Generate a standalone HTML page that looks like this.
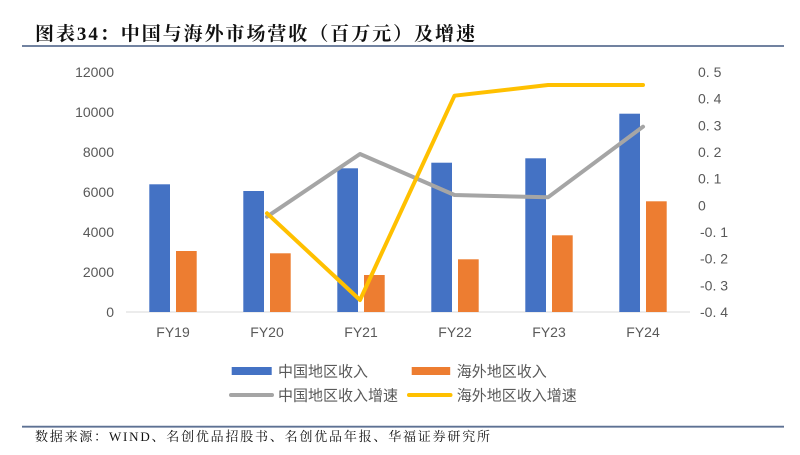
<!DOCTYPE html>
<html><head><meta charset="utf-8"><style>
html,body{margin:0;padding:0;background:#fff;}
svg{display:block;}
</style></head><body>
<svg width="800" height="455" viewBox="0 0 800 455" xmlns="http://www.w3.org/2000/svg">
<rect width="800" height="455" fill="#fff"/>
<text x="35" y="40" font-family="'Liberation Serif','Noto Serif CJK SC',serif" font-weight="bold" font-size="19" fill="#111" textLength="440" lengthAdjust="spacing">图表34：中国与海外市场营收（百万元）及增速</text>
<line x1="22" y1="46" x2="784" y2="46" stroke="#5d7193" stroke-width="1.8"/>

<g font-family="'Liberation Sans','Noto Sans CJK SC',sans-serif" font-size="14" fill="#595959" text-anchor="end">
<text x="114" y="77">12000</text>
<text x="114" y="117">10000</text>
<text x="114" y="157">8000</text>
<text x="114" y="197">6000</text>
<text x="114" y="237">4000</text>
<text x="114" y="277">2000</text>
<text x="114" y="317">0</text>
</g>
<g font-family="'Liberation Sans','Noto Sans CJK SC',sans-serif" font-size="14" fill="#595959" text-anchor="start">
<text x="698" y="77">0. 5</text>
<text x="698" y="103.7">0. 4</text>
<text x="698" y="130.3">0. 3</text>
<text x="698" y="157">0. 2</text>
<text x="698" y="183.7">0. 1</text>
<text x="698" y="210.3">0</text>
<text x="700" y="237">-0. 1</text>
<text x="700" y="263.7">-0. 2</text>
<text x="700" y="290.3">-0. 3</text>
<text x="700" y="317">-0. 4</text>
</g>

<line x1="126" y1="312" x2="690" y2="312" stroke="#d9d9d9" stroke-width="1"/>

<g fill="#4472C4">
<rect x="149.3" y="184.3" width="20.7" height="127.7"/>
<rect x="243.3" y="191" width="20.7" height="121"/>
<rect x="337.3" y="168.3" width="20.7" height="143.7"/>
<rect x="431.3" y="162.7" width="20.7" height="149.3"/>
<rect x="525.3" y="158.3" width="20.7" height="153.7"/>
<rect x="619.3" y="113.7" width="20.7" height="198.3"/>
</g>
<g fill="#ED7D31">
<rect x="176" y="251" width="20.7" height="61"/>
<rect x="270" y="253.3" width="20.7" height="58.7"/>
<rect x="364" y="275" width="20.7" height="37"/>
<rect x="458" y="259.3" width="20.7" height="52.7"/>
<rect x="552" y="235.3" width="20.7" height="76.7"/>
<rect x="646" y="201.3" width="20.7" height="110.7"/>
</g>

<polyline points="267,216.7 360,154 454.5,195 548,197.3 643,126.7" fill="none" stroke="#A5A5A5" stroke-width="4" stroke-linejoin="round" stroke-linecap="round"/>
<polyline points="267,213.3 360,300 454.5,95.7 548,85 643,85" fill="none" stroke="#FFC000" stroke-width="4" stroke-linejoin="round" stroke-linecap="round"/>

<g font-family="'Liberation Sans','Noto Sans CJK SC',sans-serif" font-size="14" fill="#595959" text-anchor="middle">
<text x="173" y="337">FY19</text>
<text x="267" y="337">FY20</text>
<text x="361" y="337">FY21</text>
<text x="455" y="337">FY22</text>
<text x="549" y="337">FY23</text>
<text x="643" y="337">FY24</text>
</g>

<rect x="231.7" y="367" width="40" height="8" fill="#4472C4"/>
<rect x="411.7" y="367" width="38.5" height="8" fill="#ED7D31"/>
<line x1="231" y1="395" x2="272" y2="395" stroke="#A5A5A5" stroke-width="4" stroke-linecap="round"/>
<line x1="409" y1="395" x2="450.5" y2="395" stroke="#FFC000" stroke-width="4" stroke-linecap="round"/>
<g font-family="'Liberation Sans','Noto Sans CJK SC',sans-serif" font-size="15" fill="#595959">
<text x="278" y="376.5">中国地区收入</text>
<text x="456.7" y="376.5">海外地区收入</text>
<text x="278" y="400.5">中国地区收入增速</text>
<text x="456.7" y="400.5">海外地区收入增速</text>
</g>

<line x1="22" y1="426.7" x2="784" y2="426.7" stroke="#5d7193" stroke-width="1.8"/>
<text x="35" y="441" font-family="'Liberation Serif','Noto Serif CJK SC',serif" font-size="13" fill="#111" textLength="455" lengthAdjust="spacing">数据来源：WIND、名创优品招股书、名创优品年报、华福证券研究所</text>
</svg>
</body></html>
